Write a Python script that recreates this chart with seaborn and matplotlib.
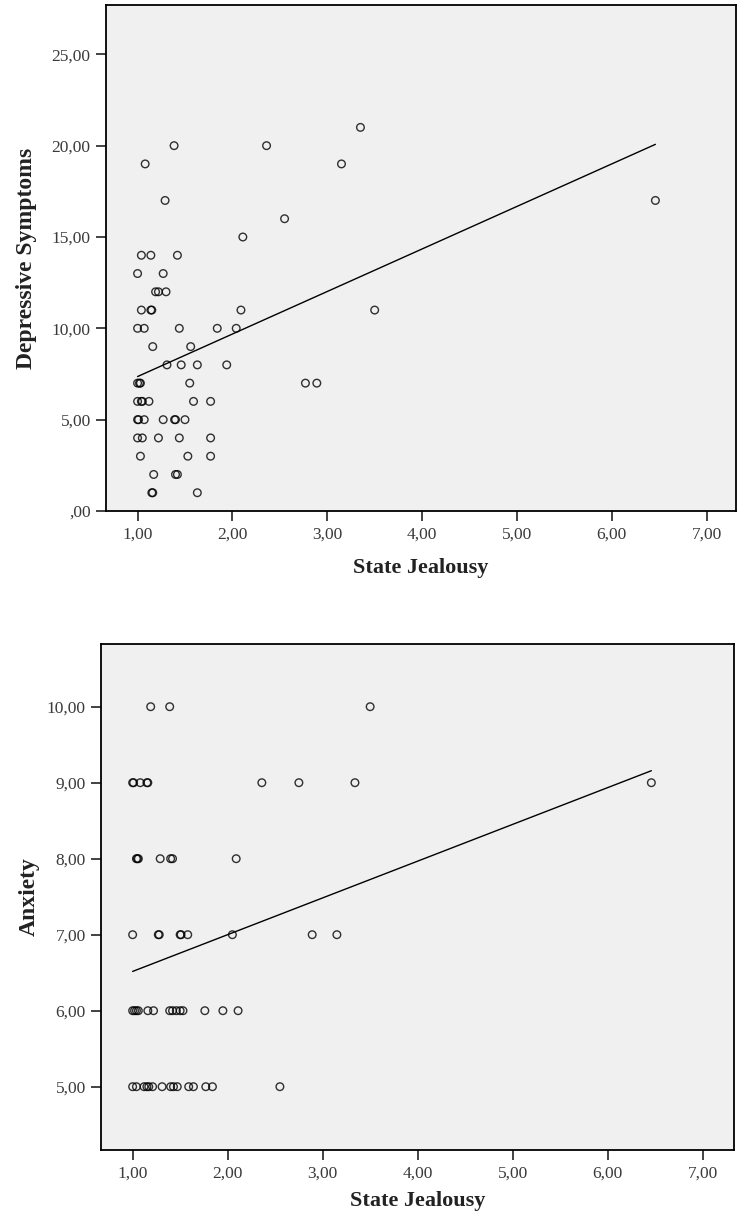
import matplotlib
matplotlib.use("Agg")
import matplotlib.pyplot as plt
import seaborn as sns
import numpy as np

# ---------------- data ----------------
# Top panel: State Jealousy vs Depressive Symptoms
dep_jealousy = [
    3.35,
    1.385, 2.36,
    1.08, 3.15,
    1.29, 6.46,
    2.55,
    2.11,
    1.04, 1.14, 1.42,
    1.00, 1.27,
    1.19, 1.22, 1.30,
    1.04, 1.14, 1.15, 2.09, 3.50,
    1.00, 1.07, 1.44, 1.84, 2.04,
    1.16, 1.56,
    1.31, 1.46, 1.63, 1.94,
    1.00, 1.02, 1.03, 1.55, 2.77, 2.89,
    1.00, 1.04, 1.05, 1.12, 1.59, 1.77,
    1.00, 1.01, 1.07, 1.27, 1.39, 1.40, 1.50,
    1.00, 1.05, 1.22, 1.44, 1.77,
    1.03, 1.53, 1.77,
    1.17, 1.40, 1.42,
    1.15, 1.16, 1.63,
]
dep_symptoms = [
    21,
    20, 20,
    19, 19,
    17, 17,
    16,
    15,
    14, 14, 14,
    13, 13,
    12, 12, 12,
    11, 11, 11, 11, 11,
    10, 10, 10, 10, 10,
    9, 9,
    8, 8, 8, 8,
    7, 7, 7, 7, 7, 7,
    6, 6, 6, 6, 6, 6,
    5, 5, 5, 5, 5, 5, 5,
    4, 4, 4, 4, 4,
    3, 3, 3,
    2, 2, 2,
    1, 1, 1,
]

# Bottom panel: State Jealousy vs Anxiety
anx_jealousy = [
    1.19, 1.39, 3.50,
    1.00, 1.01, 1.08, 1.15, 1.16, 2.36, 2.75, 3.34, 6.46,
    1.04, 1.05, 1.06, 1.29, 1.40, 1.42, 2.09,
    1.00, 1.27, 1.28, 1.50, 1.51, 1.58, 2.05, 2.89, 3.15,
    1.00, 1.02, 1.04, 1.06, 1.16, 1.22, 1.39, 1.42, 1.46, 1.50, 1.53, 1.76, 1.95, 2.11,
    1.00, 1.04, 1.12, 1.15, 1.17, 1.21, 1.31, 1.40, 1.43, 1.47, 1.59, 1.64, 1.77, 1.84, 2.55,
]
anxiety = [
    10, 10, 10,
    9, 9, 9, 9, 9, 9, 9, 9, 9,
    8, 8, 8, 8, 8, 8, 8,
    7, 7, 7, 7, 7, 7, 7, 7, 7,
    6, 6, 6, 6, 6, 6, 6, 6, 6, 6, 6, 6, 6, 6,
    5, 5, 5, 5, 5, 5, 5, 5, 5, 5, 5, 5, 5, 5, 5,
]

x_ticks = [1, 2, 3, 4, 5, 6, 7]
x_ticklabels = ["1,00", "2,00", "3,00", "4,00", "5,00", "6,00", "7,00"]
top_y_ticks = [0, 5, 10, 15, 20, 25]
top_y_ticklabels = [",00", "5,00", "10,00", "15,00", "20,00", "25,00"]
bot_y_ticks = [5, 6, 7, 8, 9, 10]
bot_y_ticklabels = ["5,00", "6,00", "7,00", "8,00", "9,00", "10,00"]

x_label = "State Jealousy"
top_y_label = "Depressive Symptoms"
bot_y_label = "Anxiety"

# ---------------- style ----------------
sns.set_theme(style="white")
plt.rcParams["font.family"] = ["Liberation Serif", "DejaVu Serif"]

W, H = 737, 1222
fig = plt.figure(figsize=(W / 100, H / 100), dpi=100)
fig.patch.set_facecolor("white")

def px_axes(left, top, right, bottom):
    return fig.add_axes([left / W, 1 - bottom / H, (right - left) / W, (bottom - top) / H])

ax1 = px_axes(106, 5, 736, 511)
ax2 = px_axes(101, 644, 734, 1150)

scatter_kws = dict(s=30, facecolors="none", edgecolors="black", linewidths=1.0, zorder=3)
line_kws = dict(color="black", lw=1.0, zorder=2)

def style(ax, yticks, yticklabels, ylabel, xlim, ylim, xlab_y, ylab_x):
    ax.set_facecolor("#F0F0F0")
    ax.set_xlim(*xlim)
    ax.set_ylim(*ylim)
    ax.set_xticks(x_ticks)
    ax.set_xticklabels(x_ticklabels)
    ax.set_yticks(yticks)
    ax.set_yticklabels(yticklabels)
    for s in ax.spines.values():
        s.set_visible(True)
        s.set_color("black")
        s.set_linewidth(1.3)
    ax.tick_params(axis="both", which="major", direction="out", length=7, width=1.2,
                   color="#222222", labelsize=12.5, labelcolor="#3a3a3a", pad=4,
                   bottom=True, left=True)
    ax.set_xlabel(x_label, fontsize=16, fontweight="bold", color="#222222")
    ax.set_ylabel(ylabel, fontsize=17, fontweight="bold", color="#222222")
    ax.xaxis.set_label_coords(0.5, xlab_y)
    ax.yaxis.set_label_coords(ylab_x, 0.5)
    ax.grid(False)

sns.regplot(x=np.array(dep_jealousy), y=np.array(dep_symptoms), ax=ax1, ci=None,
            scatter_kws=scatter_kws, line_kws=line_kws, truncate=True)
style(ax1, top_y_ticks, top_y_ticklabels, top_y_label, (0.667, 7.31), (0, 27.7),
      -0.093, -0.110)

sns.regplot(x=np.array(anx_jealousy), y=np.array(anxiety), ax=ax2, ci=None,
            scatter_kws=scatter_kws, line_kws=line_kws, truncate=True)
style(ax2, bot_y_ticks, bot_y_ticklabels, bot_y_label, (0.667, 7.33), (4.167, 10.825),
      -0.082, -0.097)

fig.savefig("out.png", dpi=100, facecolor="white")
